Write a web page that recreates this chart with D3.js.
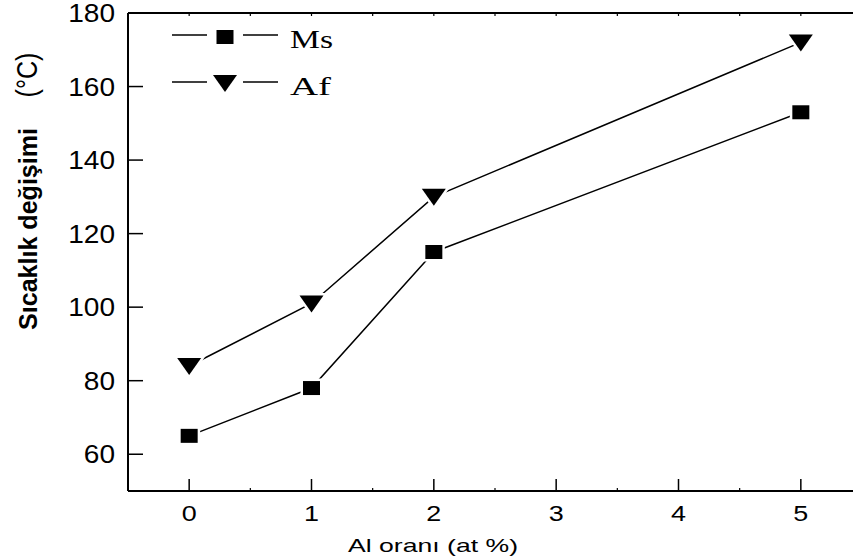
<!DOCTYPE html>
<meta charset="utf-8">
<style>
body { margin: 0; background: #fff; }
text { font-family: "Liberation Sans", Arial, sans-serif; fill: #000; }
.legend text { font-family: "Liberation Serif", "Times New Roman", serif; font-size: 26px; }
</style>
<body>
<script src="https://cdn.jsdelivr.net/npm/d3@7"></script>
<script>

var xValues = [0, 1, 2, 5];
var msValues = [65, 78, 115, 153];
var afValues = [84, 101, 130, 172];
var xTicks = [0, 1, 2, 3, 4, 5];
var yTicks = [60, 80, 100, 120, 140, 160, 180];
var seriesNames = ["Ms", "Af"];

var width = 853,
    height = 558;

var x = d3.scaleLinear().domain([-0.5, 5.5]).range([128, 862]);
var y = d3.scaleLinear().domain([50, 180]).range([491, 13]);

var svg = d3.select("body").append("svg")
    .attr("width", width)
    .attr("height", height);

// frame lines (left, bottom, top)
svg.append("line").attr("x1", x(-0.5)).attr("x2", x(-0.5)).attr("y1", y(50)).attr("y2", y(180))
    .attr("stroke", "#000").attr("stroke-width", 2);
svg.append("line").attr("x1", x(-0.5)).attr("x2", width).attr("y1", y(50)).attr("y2", y(50))
    .attr("stroke", "#000").attr("stroke-width", 2);
svg.append("line").attr("x1", x(-0.5)).attr("x2", width).attr("y1", y(180)).attr("y2", y(180))
    .attr("stroke", "#000").attr("stroke-width", 2);

// y ticks, pointing inward
var gy = svg.append("g");
gy.selectAll("line").data(yTicks).enter().append("line")
    .attr("x1", x(-0.5)).attr("x2", x(-0.5) + 15)
    .attr("y1", function(d) { return y(d); })
    .attr("y2", function(d) { return y(d); })
    .attr("stroke", "#000").attr("stroke-width", 1.5);
gy.selectAll("text").data(yTicks).enter().append("text")
    .attr("x", x(-0.5) - 13)
    .attr("y", function(d) { return y(d); })
    .attr("dy", "0.36em")
    .attr("text-anchor", "end")
    .style("font-size", "25px")
    .attr("textLength", function(d) { return String(d).length * 15.6; })
    .attr("lengthAdjust", "spacingAndGlyphs")
    .text(function(d) { return d; });

// x ticks, pointing inward
var gx = svg.append("g");
gx.selectAll("line").data(xTicks).enter().append("line")
    .attr("x1", function(d) { return x(d); })
    .attr("x2", function(d) { return x(d); })
    .attr("y1", y(50)).attr("y2", y(50) - 12)
    .attr("stroke", "#000").attr("stroke-width", 1.5);
gx.selectAll("text").data(xTicks).enter().append("text")
    .attr("x", function(d) { return x(d); })
    .attr("y", y(50) + 30)
    .attr("text-anchor", "middle")
    .style("font-size", "22px")
    .attr("textLength", 15)
    .attr("lengthAdjust", "spacingAndGlyphs")
    .text(function(d) { return d; });

// small minor ticks on top and bottom
var minor = d3.range(-0.5, 5.6, 0.5);
svg.append("g").selectAll("line").data(minor).enter().append("line")
    .attr("x1", function(d) { return x(d); })
    .attr("x2", function(d) { return x(d); })
    .attr("y1", y(180)).attr("y2", y(180) + 3)
    .attr("stroke", "#000").attr("stroke-width", 1.2);
svg.append("g").selectAll("line").data(minor.filter(function(d) { return d % 1 !== 0; })).enter().append("line")
    .attr("x1", function(d) { return x(d); })
    .attr("x2", function(d) { return x(d); })
    .attr("y1", y(50)).attr("y2", y(50) - 3)
    .attr("stroke", "#000").attr("stroke-width", 1.2);

// axis titles
svg.append("text")
    .attr("x", 348).attr("y", 552)
    .style("font-size", "19px")
    .attr("textLength", 170)
    .attr("lengthAdjust", "spacingAndGlyphs")
    .text("Al oranı  (at %)");

svg.append("text")
    .attr("transform", "translate(37,229) rotate(-90)")
    .attr("text-anchor", "middle")
    .style("font-size", "25px")
    .style("font-weight", "bold")
    .attr("textLength", 202)
    .attr("lengthAdjust", "spacingAndGlyphs")
    .text("Sıcaklık değişimi");

svg.append("text")
    .attr("transform", "translate(37,75) rotate(-90)")
    .attr("text-anchor", "middle")
    .style("font-size", "29px")
    .attr("textLength", 45)
    .attr("lengthAdjust", "spacingAndGlyphs")
    .text("(°C)");

// series
var line = d3.line()
    .x(function(d, i) { return x(xValues[i]); })
    .y(function(d) { return y(d); });

[msValues, afValues].forEach(function(vals) {
  svg.append("path")
      .datum(vals)
      .attr("d", line)
      .attr("fill", "none")
      .attr("stroke", "#000")
      .attr("stroke-width", 1.5);
});

var square = "M-8.5,-7h17v14h-17z";
var tri = "M-12,-8L12,-8L0,9Z";

svg.append("g").selectAll("path").data(msValues).enter().append("path")
    .attr("transform", function(d, i) { return "translate(" + x(xValues[i]) + "," + y(d) + ")"; })
    .attr("d", square)
    .attr("fill", "#000")
    .attr("stroke", "#fff")
    .attr("stroke-width", 5)
    .attr("paint-order", "stroke");

svg.append("g").selectAll("path").data(afValues).enter().append("path")
    .attr("transform", function(d, i) { return "translate(" + x(xValues[i]) + "," + y(d) + ")"; })
    .attr("d", tri)
    .attr("fill", "#000")
    .attr("stroke", "#fff")
    .attr("stroke-width", 5)
    .attr("paint-order", "stroke");

// legend
var legend = svg.append("g").attr("class", "legend");
seriesNames.forEach(function(name, i) {
  var ly = 35 + i * 47;
  legend.append("line").attr("x1", 172).attr("x2", 207).attr("y1", ly).attr("y2", ly)
      .attr("stroke", "#000").attr("stroke-width", 1.5);
  legend.append("line").attr("x1", 243).attr("x2", 278).attr("y1", ly).attr("y2", ly)
      .attr("stroke", "#000").attr("stroke-width", 1.5);
  legend.append("path")
      .attr("transform", "translate(225," + (i === 0 ? ly + 2 : ly + 1) + ")")
      .attr("d", i === 0 ? square : tri)
      .attr("fill", "#000");
  legend.append("text")
      .attr("x", 290).attr("y", ly + 13)
      .attr("textLength", i === 0 ? 43 : 41)
      .attr("lengthAdjust", "spacingAndGlyphs")
      .text(name);
});

</script>
</body>
